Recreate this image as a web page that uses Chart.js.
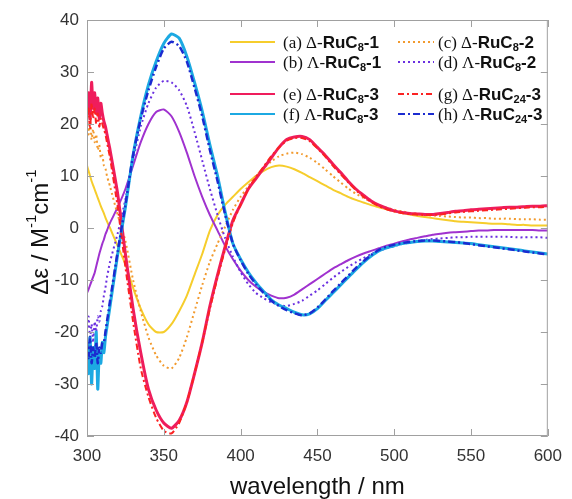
<!DOCTYPE html>
<html>
<head>
<meta charset="utf-8">
<script src="https://cdn.jsdelivr.net/npm/chart.js@4/dist/chart.umd.min.js"></script>
<style>
  html, body { margin: 0; padding: 0; background: #fff; }
  #wrap { width: 572px; height: 499px; }
</style>
</head>
<body>
<div id="wrap"><canvas id="cd" width="572" height="499"></canvas></div>
<script>
// ── DATA ────────────────────────────────────────────────────────────
// wavelength grid: 1 nm steps in the noisy 300-314 region, then 5 nm
var wavelength = [300, 301, 302, 303, 304, 305, 306, 307, 308, 309, 310, 311, 312, 313, 314,
    315, 320, 325, 330, 335, 340, 345, 350, 355, 360, 365, 370, 375, 380, 385, 390, 395,
    400, 405, 410, 415, 420, 425, 430, 435, 440, 445, 450, 455, 460, 465, 470, 475, 480,
    485, 490, 495, 500, 505, 510, 515, 520, 525, 530, 535, 540, 545, 550, 555, 560, 565,
    570, 575, 580, 585, 590, 595, 600];

// (a) Δ-RuC8-1
var dRuC8_1 = [12, 11, 10, 9, 8.2, 7.4, 6.6, 5.8, 5, 4.2, 3.5, 2.8, 2, 1.3, 0.6,
    0, -3.5, -7, -11.5, -15.5, -18.5, -20, -20, -18.5, -16, -13, -9, -5, -0.5, 2.5, 4.5, 6,
    7.5, 8.8, 10, 11, 11.7, 12, 11.8, 11.3, 10.6, 9.8, 9, 8.2, 7.4, 6.7, 6, 5.4, 4.9,
    4.4, 4, 3.6, 3.2, 2.9, 2.6, 2.3, 2.1, 1.9, 1.7, 1.5, 1.3, 1.2, 1.1, 1.0, 0.9, 0.8,
    0.8, 0.7, 0.6, 0.6, 0.5, 0.5, 0.5];
// (b) Λ-RuC8-1
var lRuC8_1 = [-12.5, -11.8, -11, -10.2, -9.4, -8.6, -7.4, -6.2, -5, -4, -3, -2.2, -1.2, -0.5, 0.3,
    1, 4, 7.5, 12, 16.5, 20, 22.3, 22.8, 21.5, 18.5, 14.5, 10, 6, 2.5, -0.5, -3.5, -6,
    -8.2, -10, -11.3, -12.3, -13, -13.5, -13.4, -12.8, -11.8, -10.8, -9.8, -8.8, -7.8, -7, -6.2, -5.5, -4.9,
    -4.4, -3.9, -3.4, -3, -2.6, -2.2, -1.9, -1.6, -1.3, -1.1, -0.9, -0.8, -0.7, -0.6, -0.5, -0.5, -0.4,
    -0.4, -0.4, -0.4, -0.4, -0.4, -0.5, -0.5];
// (c) Δ-RuC8-2
var dRuC8_2 = [21, 18, 20.5, 17, 19, 16.5, 18, 15, 16, 13.5, 14, 12, 11.5, 10, 9,
    8, 2.5, -2.5, -10, -16, -21, -24.5, -26.5, -27, -25, -21, -16, -11, -6.5, -3, 0.3, 3.5,
    6, 8, 10, 11.5, 12.8, 13.8, 14.3, 14.5, 14.2, 13.5, 12.5, 11.3, 10, 8.8, 7.6, 6.6, 5.8,
    5, 4.4, 3.9, 3.5, 3.2, 2.9, 2.7, 2.5, 2.4, 2.3, 2.2, 2.1, 2, 2, 1.9, 1.9, 1.8,
    1.8, 1.8, 1.7, 1.7, 1.7, 1.6, 1.6];
// (d) Λ-RuC8-2
var lRuC8_2 = [-20, -17, -21, -18.5, -22, -18, -20, -17, -18, -16, -15, -13, -11.5, -9.5, -8,
    -6.5, -1, 5.5, 13, 19.5, 24, 27, 28.3, 28, 26.5, 23.5, 18.5, 13, 7.5, 2.5, -2, -5.5,
    -8.5, -10.8, -12.5, -13.5, -14.3, -14.8, -15, -14.6, -14, -13, -12, -10.8, -9.6, -8.5, -7.5, -6.6, -5.8,
    -5, -4.4, -3.9, -3.5, -3.1, -2.8, -2.5, -2.3, -2.1, -2, -1.9, -1.8, -1.8, -1.7, -1.7, -1.7, -1.7,
    -1.7, -1.7, -1.8, -1.8, -1.8, -1.8, -1.9];
// (e) Δ-RuC8-3
var dRuC8_3 = [22, 26, 21, 28, 23, 26, 22, 25, 21, 24, 22, 20.5, 19.5, 18, 16.5,
    15, 6.5, -5, -15.5, -24, -31, -35, -37.5, -38.5, -37, -33.5, -28, -22, -15, -9, -3.5, 1.5,
    4.5, 7.5, 9.5, 11.5, 13.5, 15.5, 17, 17.5, 17.6, 17, 15.5, 14, 12.3, 10.7, 9, 7.5, 6.3,
    5.2, 4.4, 3.8, 3.3, 3, 2.8, 2.7, 2.6, 2.6, 2.8, 3, 3.2, 3.3, 3.5, 3.6, 3.7, 3.8,
    3.9, 4, 4, 4.1, 4.2, 4.2, 4.3];
// (f) Λ-RuC8-3
var lRuC8_3 = [-24, -28, -21, -30, -23, -27, -20, -31, -24, -26, -22, -24, -21, -19, -17,
    -15, -5, 4, 14, 21.5, 27.5, 32, 35.5, 37.3, 36.5, 33, 28, 22.5, 16, 10, 3, -3,
    -6, -8.5, -10.5, -12.2, -13.8, -14.8, -15.5, -16.2, -16.7, -16.5, -15.5, -14, -12.5, -11, -9.5, -8, -6.6,
    -5.4, -4.4, -3.8, -3.4, -3, -2.8, -2.6, -2.5, -2.5, -2.6, -2.7, -2.8, -2.9, -3, -3.2, -3.4, -3.6,
    -3.8, -4, -4.2, -4.4, -4.6, -4.8, -5];
// (g) Δ-RuC24-3
var dRuC24_3 = [20, 23, 19, 24, 21, 23, 20, 22, 19.5, 21, 20, 19, 18, 16.5, 15,
    13.5, 4, -7.5, -18, -27, -32.5, -36.5, -39, -39.5, -37.5, -33.5, -28, -22, -15.5, -9.5, -4, 1,
    4.5, 7.5, 9.8, 11.8, 13.8, 15.5, 16.8, 17.3, 17.3, 16.7, 15.3, 13.8, 12, 10.4, 8.8, 7.3, 6,
    5, 4.2, 3.6, 3.2, 2.9, 2.7, 2.6, 2.5, 2.5, 2.6, 2.8, 3, 3.1, 3.2, 3.3, 3.4, 3.5,
    3.6, 3.7, 3.8, 3.9, 4, 4, 4.1];
// (h) Λ-RuC24-3
var lRuC24_3 = [-22, -25, -21, -26, -23, -25, -22, -26, -23, -24, -22, -22, -20, -18, -16,
    -14, -4.5, 4.5, 14, 21, 26.5, 31, 34.5, 35.8, 35, 32, 27, 21.5, 15, 9, 2.5, -3,
    -6.2, -8.8, -10.8, -12.5, -14, -15, -15.8, -16.4, -16.8, -16.4, -15.3, -13.8, -12.2, -10.7, -9.2, -7.7, -6.4,
    -5.2, -4.2, -3.6, -3.2, -2.9, -2.7, -2.5, -2.4, -2.4, -2.5, -2.6, -2.7, -2.9, -3.1, -3.3, -3.5, -3.7,
    -3.9, -4.1, -4.3, -4.5, -4.7, -4.9, -5.1];

// legend text pieces, in dataset order a..h
var labelPrefix = ["(a) \u0394-", "(b) \u039B-", "(c) \u0394-", "(d) \u039B-",
                   "(e) \u0394-", "(f) \u039B-", "(g) \u0394-", "(h) \u039B-"];
var labelSub    = ["8", "8", "8", "8", "8", "8", "24", "24"];
var labelSuffix = ["-1", "-1", "-2", "-2", "-3", "-3", "-3", "-3"];

var xTicks = [300, 350, 400, 450, 500, 550, 600];
var yTicks = [-40, -30, -20, -10, 0, 10, 20, 30, 40];

// ── STYLES ──────────────────────────────────────────────────────────
var SERIES = [
    { data: dRuC8_1,  color: "#f6cd2c", width: 2,   dash: [] },
    { data: lRuC8_1,  color: "#a032cf", width: 2,   dash: [] },
    { data: dRuC8_2,  color: "#f29a2e", width: 2,   dash: [2, 3] },
    { data: lRuC8_2,  color: "#6a2fe0", width: 2,   dash: [2, 3] },
    { data: dRuC8_3,  color: "#ef1d5c", width: 3,   dash: [] },
    { data: lRuC8_3,  color: "#1ca9e2", width: 3,   dash: [] },
    { data: dRuC24_3, color: "#fb2222", width: 2,   dash: [6, 3, 2, 3] },
    { data: lRuC24_3, color: "#1b2bd0", width: 2.5, dash: [7, 3, 2, 3] }
];
var SANS = "'Liberation Sans', Arial, sans-serif";
var SERIF = "'Liberation Serif', 'Times New Roman', serif";

function pts(arr) {
    var out = [];
    for (var i = 0; i < wavelength.length; i++) out.push({ x: wavelength[i], y: arr[i] });
    return out;
}

var datasets = [];
for (var i = 0; i < SERIES.length; i++) {
    datasets.push({
        label: labelPrefix[i] + "RuC" + labelSub[i] + labelSuffix[i],
        data: pts(SERIES[i].data),
        borderColor: SERIES[i].color,
        borderWidth: SERIES[i].width,
        borderDash: SERIES[i].dash,
        pointRadius: 0,
        tension: 0.2,
        fill: false,
        order: SERIES.length - i
    });
}

// ── DECORATIONS: frame, inward ticks, titles, legend ───────────────
function drawLegendItem(ctx, i, lx0, lx1, tx, y) {
    var s = SERIES[i];
    ctx.save();
    ctx.strokeStyle = s.color;
    ctx.lineWidth = Math.min(s.width, 2);
    ctx.setLineDash(s.dash);
    ctx.beginPath();
    ctx.moveTo(lx0, y);
    ctx.lineTo(lx1, y);
    ctx.stroke();
    ctx.restore();

    ctx.fillStyle = "#111";
    ctx.textBaseline = "alphabetic";
    ctx.textAlign = "left";
    var base = y + 6;
    var x = tx;
    ctx.font = "17px " + SERIF;
    ctx.fillText(labelPrefix[i], x, base);
    x += ctx.measureText(labelPrefix[i]).width;
    ctx.font = "bold 17px " + SANS;
    ctx.fillText("RuC", x, base);
    x += ctx.measureText("RuC").width;
    ctx.font = "bold 11px " + SANS;
    ctx.fillText(labelSub[i], x, base + 3);
    x += ctx.measureText(labelSub[i]).width;
    ctx.font = "bold 17px " + SANS;
    ctx.fillText(labelSuffix[i], x, base);
}

var decor = {
    id: "decor",
    afterDatasetsDraw: function (chart) {
        var ctx = chart.ctx;
        var a = chart.chartArea;
        var xs = chart.scales.x, ys = chart.scales.y;
        ctx.save();
        // frame
        ctx.strokeStyle = "#a0a0a0";
        ctx.lineWidth = 1;
        ctx.strokeRect(a.left + 0.5, a.top + 0.5, a.right - a.left - 1, a.bottom - a.top - 1);
        // inward ticks
        ctx.beginPath();
        for (var i = 0; i < xTicks.length; i++) {
            var px = Math.round(xs.getPixelForValue(xTicks[i])) + 0.5;
            ctx.moveTo(px, a.bottom); ctx.lineTo(px, a.bottom - 7);
            ctx.moveTo(px, a.top); ctx.lineTo(px, a.top + 7);
        }
        for (var j = 0; j < yTicks.length; j++) {
            var py = Math.round(ys.getPixelForValue(yTicks[j])) + 0.5;
            ctx.moveTo(a.left, py); ctx.lineTo(a.left + 7, py);
            ctx.moveTo(a.right, py); ctx.lineTo(a.right - 7, py);
        }
        ctx.stroke();

        // x title
        ctx.fillStyle = "#111";
        ctx.font = "24px " + SANS;
        ctx.textAlign = "center";
        ctx.textBaseline = "middle";
        ctx.fillText("wavelength / nm", (a.left + a.right) / 2, 487);

        // y title with superscripts
        var parts = [
            { t: "\u0394\u03B5 / M", f: "24px " + SANS, dy: 0 },
            { t: "-1", f: "15px " + SANS, dy: -9 },
            { t: "cm", f: "24px " + SANS, dy: 0 },
            { t: "-1", f: "15px " + SANS, dy: -9 }
        ];
        var total = 0;
        for (var k = 0; k < parts.length; k++) {
            ctx.font = parts[k].f;
            parts[k].w = ctx.measureText(parts[k].t).width;
            total += parts[k].w;
        }
        ctx.translate(40, 232);
        ctx.rotate(-Math.PI / 2);
        ctx.textAlign = "left";
        ctx.textBaseline = "middle";
        var cx = -total / 2;
        for (var m = 0; m < parts.length; m++) {
            ctx.font = parts[m].f;
            ctx.fillText(parts[m].t, cx, parts[m].dy + 1);
            cx += parts[m].w;
        }
        ctx.restore();

        // legend: two columns, rows split in two groups
        var col1 = [0, 1, 4, 5], col2 = [2, 3, 6, 7];
        var rows = [42, 62, 94, 114];
        ctx.save();
        for (var r = 0; r < 4; r++) {
            drawLegendItem(ctx, col1[r], 230, 275, 283, rows[r]);
            drawLegendItem(ctx, col2[r], 398, 434, 438, rows[r]);
        }
        ctx.restore();
    }
};

// ── CHART ───────────────────────────────────────────────────────────
new Chart(document.getElementById("cd"), {
    type: "line",
    data: { datasets: datasets },
    options: {
        responsive: false,
        animation: false,
        devicePixelRatio: 1,
        layout: { padding: { top: 20, right: 17, left: 0, bottom: 0 } },
        plugins: { legend: { display: false }, tooltip: { enabled: false } },
        scales: {
            x: {
                type: "linear", min: 300, max: 600,
                afterFit: function (s) { s.height = 63; },
                afterBuildTicks: function (s) { s.ticks = xTicks.map(function (v) { return { value: v }; }); },
                grid: { display: false, drawTicks: false },
                border: { display: false },
                ticks: { padding: 10, color: "#333", font: { family: SANS, size: 17 } }
            },
            y: {
                min: -40, max: 40,
                afterFit: function (s) { s.width = 87; },
                afterBuildTicks: function (s) { s.ticks = yTicks.map(function (v) { return { value: v }; }); },
                grid: { display: false, drawTicks: false },
                border: { display: false },
                ticks: { padding: 8, color: "#333", font: { family: SANS, size: 17 } }
            }
        }
    },
    plugins: [decor]
});
</script>
</body>
</html>
